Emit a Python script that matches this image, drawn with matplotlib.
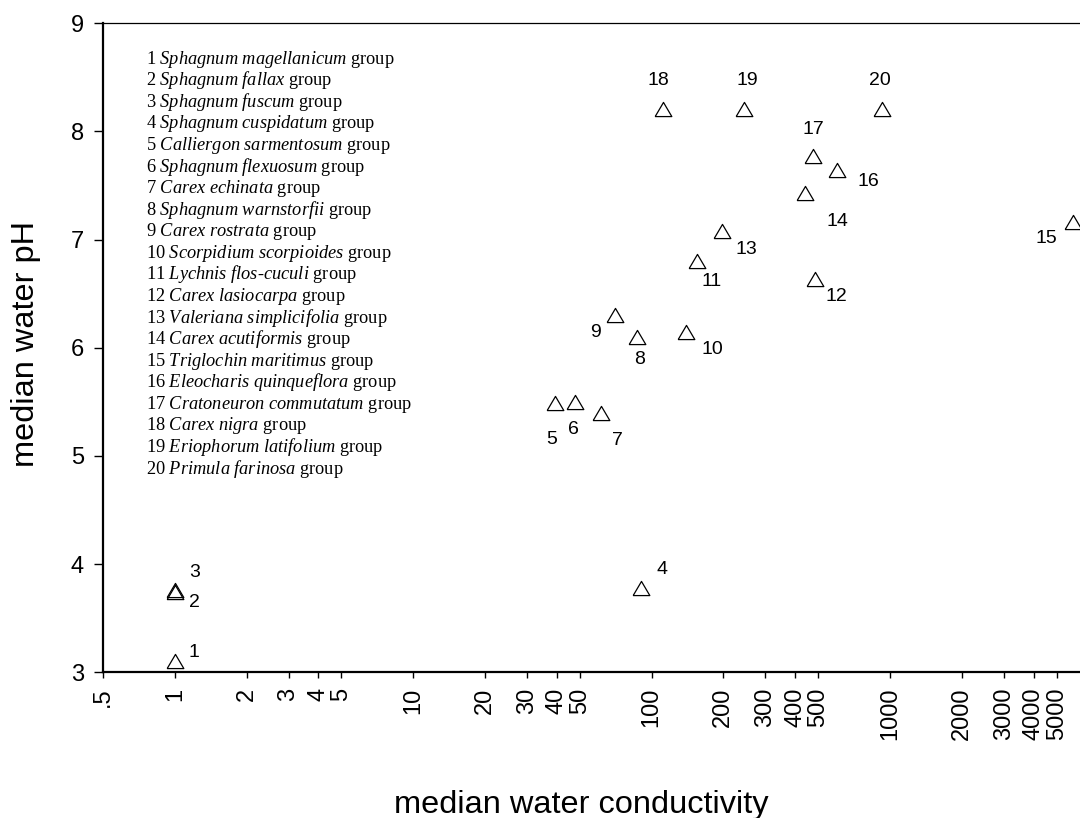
import numpy as np
import matplotlib
matplotlib.use('Agg')
import matplotlib.pyplot as plt
from matplotlib.ticker import FixedLocator, NullLocator

plt.rcParams['font.family'] = 'Liberation Sans'
plt.rcParams['mathtext.fontset'] = 'custom'
plt.rcParams['mathtext.rm'] = 'Liberation Serif'
plt.rcParams['mathtext.it'] = 'Liberation Serif:italic'

# median conductivity and pH per species group (numbered 1..20)
conductivity = [1, 1, 1, 90, 39.3, 47.7, 61.1, 86.6, 70.2, 139,
                155, 485, 197, 440, 5865, 601, 477, 112, 244, 923]
ph = [3.10, 3.74, 3.76, 3.78, 5.49, 5.50, 5.40, 6.10, 6.30, 6.15,
      6.80, 6.64, 7.08, 7.43, 7.16, 7.64, 7.77, 8.21, 8.21, 8.21]
group_ids = [str(i) for i in range(1, 21)]

groups = ["Sphagnum magellanicum", "Sphagnum fallax", "Sphagnum fuscum",
          "Sphagnum cuspidatum", "Calliergon sarmentosum", "Sphagnum flexuosum",
          "Carex echinata", "Sphagnum warnstorfii", "Carex rostrata",
          "Scorpidium scorpioides", "Lychnis flos-cuculi", "Carex lasiocarpa",
          "Valeriana simplicifolia", "Carex acutiformis", "Triglochin maritimus",
          "Eleocharis quinqueflora", "Cratoneuron commutatum", "Carex nigra",
          "Eriophorum latifolium", "Primula farinosa"]

x_ticks = [.5, 1, 2, 3, 4, 5, 10, 20, 30, 40, 50, 100, 200, 300, 400, 500,
           1000, 2000, 3000, 4000, 5000]
x_ticklabels = ['.5', '1', '2', '3', '4', '5', '10', '20', '30', '40', '50',
                '100', '200', '300', '400', '500', '1000', '2000', '3000',
                '4000', '5000']
y_ticks = [3, 4, 5, 6, 7, 8, 9]

# label offsets from each point, in pixels (right, up)
label_offsets = [(19, 9), (20, -10), (20, 18), (21, 18), (-3, -37), (-2, -28),
                 (17, -28), (3, -23), (-19, -17), (27, -18), (15, -20),
                 (21, -18), (25, -19), (32, -28), (-27, -16), (31, -11),
                 (0, 27), (-5, 28), (3, 28), (-2, 28)]

W, H = 1080, 818
fig = plt.figure(figsize=(W / 100, H / 100), dpi=100)
left, right, top, bottom = 103, 1100, 23.3, 672.3
ax = fig.add_axes([left / W, 1 - bottom / H, (right - left) / W, (bottom - top) / H])

# open triangles, a little wider than tall
tri = [(-1, -0.85), (1, -0.85), (0, 0.85), (-1, -0.85)]
ax.plot(conductivity, ph, linestyle='none', marker=tri, markersize=12,
        markerfacecolor='none', markeredgecolor='black', markeredgewidth=0.9)

for gid, xv, yv, (dx, dy) in zip(group_ids, conductivity, ph, label_offsets):
    ax.annotate(gid, xy=(xv, yv), xytext=(dx * 0.72, dy * 0.72),
                textcoords='offset points', ha='center', va='center',
                fontsize=14)

ax.set_xscale('log')
ax.set_xlim(0.5, 7600)
ax.set_ylim(3, 9)
ax.xaxis.set_major_locator(FixedLocator(x_ticks))
ax.xaxis.set_minor_locator(NullLocator())
ax.set_xticklabels(x_ticklabels, rotation=90, fontsize=17)
ax.set_yticks(y_ticks)
ax.set_yticklabels([str(v) for v in y_ticks], fontsize=17)
ax.tick_params(axis='x', length=4, width=1.0, pad=7)
ax.tick_params(axis='y', length=6.8, width=1.0, pad=7)

ax.spines['left'].set_linewidth(1.6)
ax.spines['bottom'].set_linewidth(1.6)
ax.spines['top'].set_linewidth(0.9)
ax.spines['right'].set_visible(False)

fig.text(26 / W, 1 - 344 / H, 'median water pH', rotation=90,
         ha='center', va='center', fontsize=23.4)
fig.text(581 / W, 1 - 813 / H, 'median water conductivity',
         ha='center', va='baseline', fontsize=23.4)


def italic(name):
    parts = name.split('-')
    return '-'.join(r'$\mathit{' + p.replace(' ', r'\ ') + '}$' for p in parts)


# species key in the upper left
for i, (gid, name) in enumerate(zip(group_ids, groups)):
    base = 63.6 + 21.58 * i
    fig.text(145.7 / W, 1 - base / H, gid + ' ' + italic(name) + ' group',
             family='Liberation Serif', fontsize=13.2, ha='left', va='baseline')

plt.savefig('out.png', dpi=100)
